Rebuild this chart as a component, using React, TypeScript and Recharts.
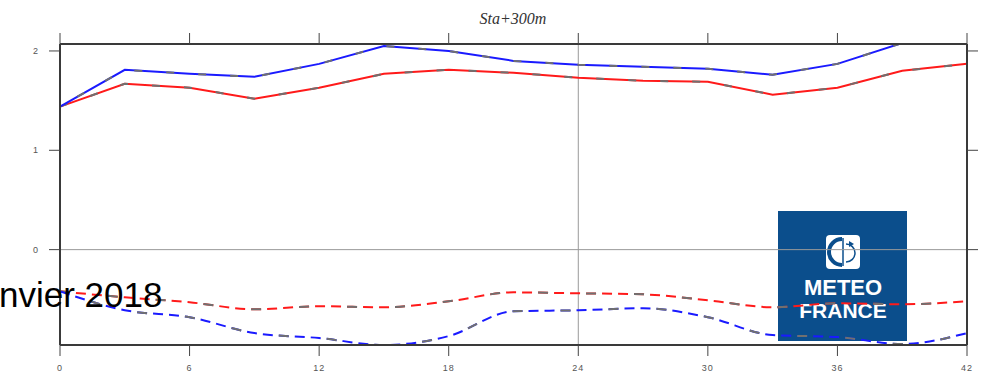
import React from "react";
import { LineChart, Line, XAxis, YAxis, ReferenceLine } from "recharts";

// échéances (heures)
const hours = [0, 3, 6, 9, 12, 15, 18, 21, 24, 27, 30, 33, 36, 39, 42];
const xTicks = [0, 6, 12, 18, 24, 30, 36, 42];
const yTicks = [0, 1, 2];

// séries
const blueSolid = [1.44, 1.81, 1.77, 1.74, 1.87, 2.05, 2.0, 1.9, 1.86, 1.84, 1.82, 1.76, 1.87, 2.08, 2.22];
const redSolid = [1.44, 1.67, 1.63, 1.52, 1.63, 1.77, 1.81, 1.78, 1.73, 1.7, 1.69, 1.56, 1.63, 1.8, 1.87];
const redDash = [-0.42, -0.48, -0.53, -0.6, -0.57, -0.58, -0.52, -0.43, -0.44, -0.45, -0.51, -0.58, -0.54, -0.55, -0.52];
const blueDash = [-0.42, -0.61, -0.68, -0.84, -0.89, -0.96, -0.87, -0.62, -0.61, -0.59, -0.68, -0.86, -0.88, -0.95, -0.84];

const data = hours.map((h, i) => ({
  h,
  blueSolid: blueSolid[i],
  redSolid: redSolid[i],
  redDash: redDash[i],
  blueDash: blueDash[i],
}));

const Y_DOMAIN: [number, number] = [-0.96, 2.07];
const AXIS = "#3a3a3a";
const OVERLAY = "#707070";
const noLabel = () => "";

const tickStyle = { fontSize: 9, fill: "#555", fontFamily: "Liberation Sans, Arial, sans-serif", letterSpacing: 1 };

function Logo() {
  return (
    <svg width={985} height={374} style={{ position: "absolute", left: 0, top: 0 }}>
      <rect x={778} y={211} width={129} height={130} fill="#0b4e8c" />
      <rect x={826} y={235} width={34} height={34} rx={4} fill="#fff" />
      <path d="M842 239 A13 13 0 1 0 842 265" fill="none" stroke="#0b4e8c" strokeWidth={4} />
      <path d="M843 238 L843 266" stroke="#0b4e8c" strokeWidth={1.5} />
      <path d="M846 244 A9 9 0 0 1 846 262" fill="none" stroke="#0b4e8c" strokeWidth={1.5} />
      <path d="M849 241 L854 244 L849 247 Z" fill="#0b4e8c" />
      <text x={843} y={295} textAnchor="middle" fill="#fff" fontSize={22} fontWeight="bold"
        fontFamily="Liberation Sans, Arial, sans-serif">METEO</text>
      <text x={843} y={318} textAnchor="middle" fill="#fff" fontSize={21} fontWeight="bold"
        fontFamily="Liberation Sans, Arial, sans-serif">FRANCE</text>
    </svg>
  );
}

export default function App() {
  return (
    <div style={{ position: "absolute", left: 0, top: 0, width: 985, height: 374, background: "#fff", overflow: "hidden" }}>
      <Logo />
      <div style={{ position: "absolute", left: 0, top: 0 }}>
        <LineChart width={985} height={374} data={data} margin={{ top: 34, right: 0, bottom: 0, left: 0 }}>
          <XAxis dataKey="h" type="number" domain={[0, 42]} ticks={xTicks} height={29}
            stroke={AXIS} axisLine={{ stroke: AXIS, strokeWidth: 2 }} tickLine={{ stroke: "#444" }}
            tickSize={11} tickMargin={9} tick={tickStyle} interval={0} />
          <XAxis xAxisId="top" orientation="top" dataKey="h" type="number" domain={[0, 42]} ticks={xTicks}
            height={10} axisLine={{ stroke: AXIS, strokeWidth: 2 }} tickLine={{ stroke: "#444" }}
            tickSize={11} tickFormatter={noLabel} interval={0} />
          <YAxis type="number" domain={Y_DOMAIN} ticks={yTicks} allowDataOverflow width={60}
            axisLine={{ stroke: AXIS, strokeWidth: 2 }} tickLine={{ stroke: "#444" }}
            tickSize={11} tickMargin={10} tick={tickStyle} interval={0} />
          <YAxis yAxisId="right" orientation="right" type="number" domain={Y_DOMAIN} ticks={yTicks}
            allowDataOverflow width={18} axisLine={{ stroke: AXIS, strokeWidth: 2 }}
            tickLine={{ stroke: "#444" }} tickSize={11} tickFormatter={noLabel} interval={0} />
          <ReferenceLine x={24} stroke="#9a9a9a" strokeWidth={1} />
          <ReferenceLine y={0} stroke="#9a9a9a" strokeWidth={1} />

          <Line dataKey="redDash" type="monotone" stroke="#ff1a1a" strokeWidth={2} strokeDasharray="10 6" dot={false} isAnimationActive={false} />
          <Line dataKey="redDash" type="monotone" stroke={OVERLAY} strokeWidth={2} strokeDasharray="10 38" dot={false} isAnimationActive={false} />
          <Line dataKey="blueDash" type="monotone" stroke="#1a1aff" strokeWidth={2} strokeDasharray="10 6" dot={false} isAnimationActive={false} />
          <Line dataKey="blueDash" type="monotone" stroke={OVERLAY} strokeWidth={2} strokeDasharray="10 38" strokeDashoffset={16} dot={false} isAnimationActive={false} />
          <Line dataKey="redSolid" type="linear" stroke="#ff1a1a" strokeWidth={2} dot={false} isAnimationActive={false} />
          <Line dataKey="redSolid" type="linear" stroke={OVERLAY} strokeWidth={2} strokeDasharray="8 24" dot={false} isAnimationActive={false} />
          <Line dataKey="blueSolid" type="linear" stroke="#1a1aff" strokeWidth={2} dot={false} isAnimationActive={false} />
          <Line dataKey="blueSolid" type="linear" stroke={OVERLAY} strokeWidth={2} strokeDasharray="8 24" strokeDashoffset={12} dot={false} isAnimationActive={false} />
        </LineChart>
      </div>
      <svg width={985} height={374} style={{ position: "absolute", left: 0, top: 0, pointerEvents: "none" }}>
        <text x={513} y={24} textAnchor="middle" fontSize={16} fontStyle="italic" fill="#333"
          style={{ fontFamily: "'Liberation Serif', serif" }}>Sta+300m</text>
        <text x={-1} y={307} fontSize={35} fill="#000"
          fontFamily="Liberation Sans, Arial, sans-serif">nvier 2018</text>
      </svg>
    </div>
  );
}
